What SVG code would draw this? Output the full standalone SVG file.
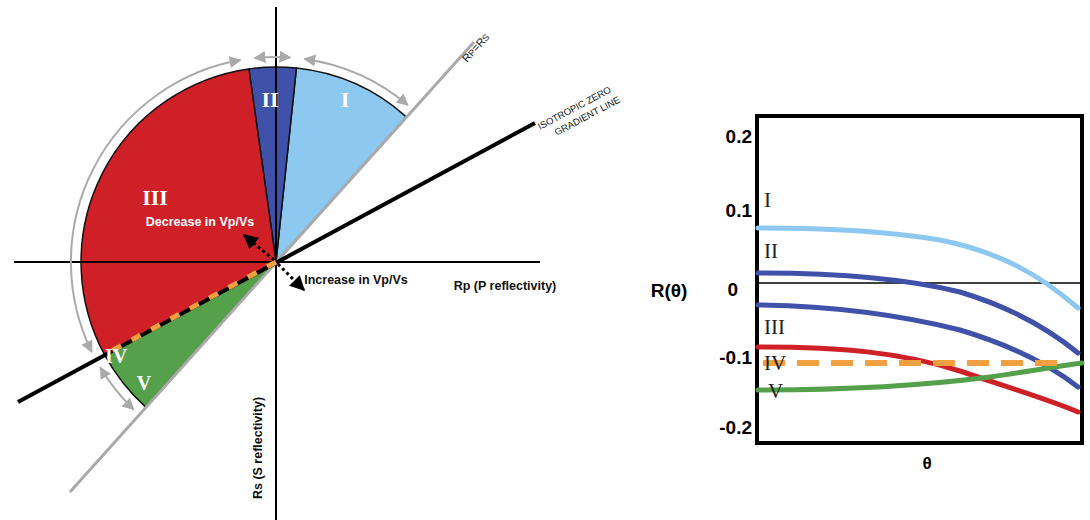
<svg xmlns="http://www.w3.org/2000/svg" width="1090" height="520" viewBox="0 0 1090 520">
<style>
.sans{font-family:"Liberation Sans",Arial,sans-serif}
.rom{font-family:"Liberation Serif","Times New Roman",serif;font-weight:bold;fill:#fff}
.romd{font-family:"Liberation Serif","Times New Roman",serif;fill:#222;font-size:21px}
.garc{fill:none;stroke:#aaa;stroke-width:2;marker-start:url(#ga);marker-end:url(#ga)}
.curve{fill:none;stroke-width:5;stroke-linecap:round}
.tick{font-family:"Liberation Sans",Arial,sans-serif;font-weight:bold;font-size:19px;text-anchor:end}
</style>
<defs>
<marker id="ga" viewBox="0 0 10 10" refX="9" refY="5" markerWidth="6" markerHeight="6" orient="auto-start-reverse"><path d="M0,0 L10,5 L0,10 z" fill="#aaa"/></marker>
<marker id="ba" viewBox="0 0 10 10" refX="9" refY="5" markerWidth="5" markerHeight="5" orient="auto"><path d="M0,0 L10,5 L0,10 z" fill="#000"/></marker>
</defs>
<rect width="1090" height="520" fill="#fff"/>
<g id="wedges" stroke="#111" stroke-width="1.5">
<path id="wI" d="M276,262 L406.5,117.1 A195,195 0 0 0 296.4,68.1 Z" fill="#8DC8F0"/>
<path id="wII" d="M276,262 L296.4,68.1 A195,195 0 0 0 248.9,68.9 Z" fill="#3F51A8"/>
<path id="wIII" d="M276,262 L248.9,68.9 A195,195 0 0 0 104.5,354.7 Z" fill="#D02027"/>
<path id="wV" d="M276,262 L104.5,354.7 A195,195 0 0 0 145.5,406.9 Z" fill="#55A04B"/>
</g>
<g id="axes" stroke="#000" stroke-width="2">
<line x1="14" y1="262" x2="540" y2="262"/>
<line x1="276" y1="7" x2="276" y2="520"/>
</g>
<g id="connectors">
<line x1="70" y1="492" x2="474" y2="42" stroke="#aaa" stroke-width="3"/>
<line x1="18" y1="402" x2="535" y2="123" stroke="#000" stroke-width="4"/>
<line x1="276" y1="262" x2="104.5" y2="354.7" stroke="#F0A040" stroke-width="5" stroke-dasharray="10 12"/>
<path class="garc" d="M407.8,104.97 A205,205 0 0 0 304.5,59"/>
<path class="garc" d="M290.3,57.5 A205,205 0 0 0 254.6,58.1"/>
<path class="garc" d="M240.4,60.1 A205,205 0 0 0 91.7,351.9"/>
<path class="garc" d="M100.3,367.6 A205,205 0 0 0 133.6,409.5"/>
<line x1="274" y1="260" x2="244" y2="235" stroke="#000" stroke-width="3" stroke-dasharray="3 3" marker-end="url(#ba)"/>
<line x1="278" y1="264" x2="304" y2="290" stroke="#000" stroke-width="3" stroke-dasharray="3 3" marker-end="url(#ba)"/>
</g>
<g id="labels">
<text class="rom" x="345" y="107" font-size="22" text-anchor="middle">I</text>
<text class="rom" x="270" y="107" font-size="22" text-anchor="middle">II</text>
<text class="rom" x="155" y="205" font-size="22" text-anchor="middle">III</text>
<text class="rom" x="116" y="363" font-size="20" text-anchor="middle">IV</text>
<text class="rom" x="144" y="448" font-size="20" text-anchor="middle" transform="translate(0,-58)">V</text>
<text class="sans" x="200" y="256" font-size="12.5" font-weight="bold" fill="#fff" text-anchor="middle" transform="translate(0,-30)">Decrease in Vp/Vs</text>
<text class="sans" x="356" y="284" font-size="12.5" font-weight="bold" fill="#111" text-anchor="middle">Increase in Vp/Vs</text>
<text class="sans" x="505" y="290" font-size="12.5" font-weight="bold" fill="#111" text-anchor="middle">Rp (P reflectivity)</text>
<text class="sans" font-size="12.5" font-weight="bold" fill="#111" text-anchor="middle" transform="translate(262,448) rotate(-90)">Rs (S reflectivity)</text>
<text class="sans" font-size="11" fill="#111" transform="translate(467,63) rotate(-48)">R<tspan font-size="9">P</tspan>=R<tspan font-size="9">S</tspan></text>
<text class="sans" font-size="9.5" fill="#111" transform="translate(540,130) rotate(-28)"><tspan x="0" y="0">ISOTROPIC  ZERO</tspan><tspan x="12" y="13">GRADIENT  LINE</tspan></text>
</g>
<g id="plot">
<rect x="757" y="116" width="325" height="327" fill="none" stroke="#000" stroke-width="4"/>
<line x1="757" y1="283" x2="1082" y2="283" stroke="#000" stroke-width="1.5"/>
<text class="tick" x="752" y="143">0.2</text>
<text class="tick" x="752" y="217">0.1</text>
<text class="tick" x="738" y="296">0</text>
<text class="tick" x="752" y="364">-0.1</text>
<text class="tick" x="752" y="434">-0.2</text>
<text class="sans" x="669" y="297" font-size="19" font-weight="bold" text-anchor="middle">R(θ)</text>
<text class="sans" x="927" y="469" font-size="17" font-weight="bold" text-anchor="middle">θ</text>
<path class="curve" stroke="#8DC8F0" d="M758,228 C820,228 880,230 940,240 C1000,252 1040,275 1078,308"/>
<path class="curve" stroke="#3F51A8" d="M758,273 C830,273 900,277 960,292 C1010,307 1050,330 1078,353"/>
<path class="curve" stroke="#3F51A8" d="M758,305 C830,306 900,315 960,330 C1010,345 1050,365 1078,387"/>
<path class="curve" stroke="#D02027" d="M758,347 C840,347 900,352 960,371 C1010,388 1050,400 1078,412"/>
<path class="curve" stroke="#55A04B" d="M758,390 C840,390 920,386 990,377 C1030,371 1060,366 1082,363"/>
<line x1="763" y1="363" x2="1066" y2="363" stroke="#F0A040" stroke-width="6" stroke-dasharray="22 12"/>
<text class="romd" x="764" y="207">I</text>
<text class="romd" x="764" y="258">II</text>
<text class="romd" x="764" y="334">III</text>
<text class="romd" x="764" y="370">IV</text>
<text class="romd" x="768" y="398">V</text>
</g>
</svg>
